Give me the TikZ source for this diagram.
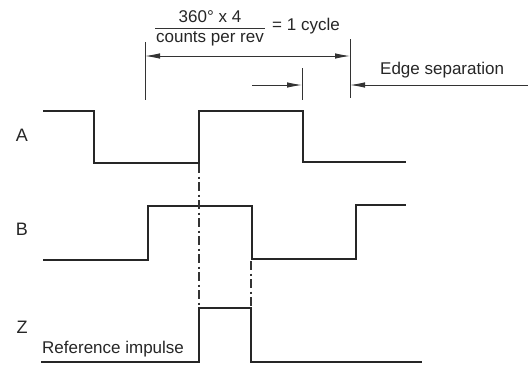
\documentclass[tikz,border=0pt]{standalone}
\usepackage{fontspec}
\setmainfont{Liberation Sans}
\usetikzlibrary{arrows.meta}
\begin{document}
\begin{tikzpicture}[x=1pt,y=-1pt,
  sig/.style={line width=1.8pt, line join=miter, draw=black!85},
  dim/.style={line width=0.9pt, draw=black!80},
  arr/.style={dim, -{Latex[length=15pt,width=5.5pt]}},
  darr/.style={dim, {Latex[length=15pt,width=5.5pt]}-{Latex[length=15pt,width=5.5pt]}},
  guide/.style={line width=1.1pt, draw=black!80, dash pattern=on 9pt off 3.5pt on 2pt off 3.5pt},
  lbl/.style={font=\fontsize{17}{20}\selectfont, inner sep=0pt, text=black!85},
  sigl/.style={font=\fontsize{18}{20}\selectfont, inner sep=0pt, text=black!85}]
\useasboundingbox (0,0) rectangle (528,365);
% labels
\node[sigl] (labA) at (22,135) {A};
\node[sigl] (labB) at (22,229) {B};
\node[sigl] (labZ) at (22,327) {Z};
\node[lbl, anchor=west] (refimp) at (42,349) {Reference impulse};
% fraction
\node[lbl] (num) at (210,17) {360° x 4};
\node[lbl] (den) at (210,39) {counts per rev};
\coordinate (barL) at (155,28);
\coordinate (barR) at (265,28);
\draw[dim] (barL) -- (barR);
\node[lbl, anchor=west] (cyc) at (272,26) {= 1 cycle};
\node[lbl, anchor=west] (edge) at (380,70) {Edge separation};
% dimension ticks
\coordinate (t1a) at (145,42); \coordinate (t1b) at (145,100);
\coordinate (t2a) at (350,39); \coordinate (t2b) at (350,98);
\coordinate (t3a) at (302,68); \coordinate (t3b) at (302,100);
\draw[dim] (t1a) -- (t1b);
\draw[dim] (t2a) -- (t2b);
\draw[dim] (t3a) -- (t3b);
\coordinate (c1) at (145,56); \coordinate (c2) at (350,56);
\draw[darr] (c1) -- (c2);
\coordinate (s1) at (252,85); \coordinate (s2) at (302,85);
\draw[arr] (s1) -- (s2);
\coordinate (e1) at (528,85); \coordinate (e2) at (350,85);
\draw[arr] (e1) -- (e2);
% signals
\draw[sig] (43,111) -- (94,111) -- (94,163) -- (199,163) -- (199,111) -- (303,111) -- (303,162) -- (406,162);
\draw[sig] (43,260) -- (148,260) -- (148,206) -- (252,206) -- (252,259) -- (356,259) -- (356,205) -- (406,205);
\draw[sig] (41,362) -- (199,362) -- (199,308) -- (251,308) -- (251,362) -- (422,362);
% guides
\coordinate (g1a) at (199,164); \coordinate (g1b) at (199,307);
\coordinate (g2a) at (251,261); \coordinate (g2b) at (251,307);
\draw[guide] (g1a) -- (g1b);
\draw[guide] (g2a) -- (g2b);
\end{tikzpicture}
\end{document}
